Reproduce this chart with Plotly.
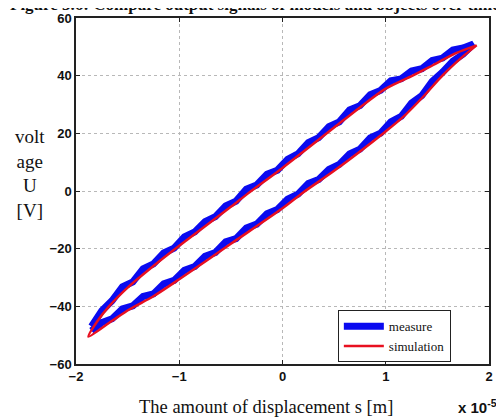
import plotly.graph_objects as go

# Displacement in units of 1e-5 m
meas_x = [-1.85, -1.75, -1.65, -1.55, -1.45, -1.35, -1.25, -1.15, -1.05, -0.95,
          -0.85, -0.75, -0.65, -0.55, -0.45, -0.35, -0.25, -0.15, -0.05, 0.05,
          0.15, 0.25, 0.35, 0.45, 0.55, 0.65, 0.75, 0.85, 0.95, 1.05,
          1.15, 1.25, 1.35, 1.45, 1.55, 1.65, 1.75, 1.85]
meas_lower = [-48.5, -45.6, -44.3, -40.9, -39.8, -36.6, -35.7, -32.2, -31.0, -27.5,
              -26.2, -22.6, -21.3, -17.6, -16.5, -12.8, -11.5, -7.9, -6.4, -2.8,
              -1.1, 2.6, 4.0, 7.5, 9.2, 12.9, 14.5, 18.4, 20.1, 24.0,
              25.9, 30.5, 33.1, 38.0, 41.2, 45.0, 47.5, 50.8]
meas_upper = [-47.0, -41.5, -38.0, -33.2, -31.5, -27.0, -25.3, -21.5, -19.8, -15.9,
              -14.2, -10.6, -8.9, -5.2, -3.5, 0.6, 2.1, 5.8, 7.2, 11.0,
              12.9, 16.8, 18.5, 22.3, 24.0, 28.1, 29.6, 33.4, 34.9, 38.2,
              38.9, 41.6, 42.4, 45.3, 46.1, 48.9, 49.6, 51.0]

sim_lower_x = [-1.88, -1.65, -1.48, -1.25, -1.0, -0.5, 0.0, 0.2, 0.5, 0.99,
               1.166, 1.36, 1.553, 1.746, 1.88]
sim_lower_y = [-50.5, -45.0, -41.0, -36.5, -30.6, -18.3, -6.0, -0.5, 7.0, 20.4,
               25.6, 32.6, 40.2, 46.6, 50.5]
sim_upper_x = [-1.88, -1.8, -1.68, -1.5, -1.25, -1.0, -0.5, -0.34, 0.0, 0.5,
               0.75, 1.0, 1.26, 1.46, 1.68, 1.88]
sim_upper_y = [-50.5, -45.5, -40.0, -33.5, -26.0, -19.0, -5.5, -1.0, 8.0, 22.0,
               29.0, 35.5, 40.0, 43.7, 47.8, 50.5]

x_ticks = [-2, -1, 0, 1, 2]
y_ticks = [-60, -40, -20, 0, 20, 40, 60]

# closed loops: lower branch left->right, upper branch right->left
mx = meas_x + meas_x[::-1]
my = meas_lower + meas_upper[::-1]
sx = sim_lower_x + sim_upper_x[::-1]
sy = sim_lower_y + sim_upper_y[::-1]

fig = go.Figure()
fig.add_trace(go.Scatter(x=mx, y=my, mode="lines", name="measure",
                         line=dict(color="#0a0af0", width=7)))
fig.add_trace(go.Scatter(x=sx, y=sy, mode="lines", name="simulation",
                         line=dict(color="#e81020", width=2.5, shape="spline", smoothing=0.8)))

axis_common = dict(
    showline=True, linecolor="#222", linewidth=1.5, mirror="ticks",
    ticks="inside", ticklen=4, tickcolor="#222",
    showgrid=True, gridcolor="#b8b8b8", griddash="dot", gridwidth=1,
    zeroline=False, automargin=False,
    tickfont=dict(family="Liberation Sans", size=13, color="#111", weight="bold"),
)
fig.update_xaxes(range=[-2, 2], tickvals=x_ticks, **axis_common)
fig.update_yaxes(range=[-60, 60], tickvals=y_ticks, **axis_common)

fig.update_layout(
    width=496, height=411,
    margin=dict(l=68, r=15, t=10, b=55),
    paper_bgcolor="white", plot_bgcolor="white",
    showlegend=True,
    legend=dict(x=0.634, y=0.005, xanchor="left", yanchor="bottom",
                bordercolor="#222", borderwidth=1, bgcolor="white",
                font=dict(family="Liberation Serif", size=13, color="#111"),
                tracegroupgap=0, itemwidth=40),
    annotations=[
        dict(text="Figure 3.6: Compare output signals of models and objects over time",
             xref="paper", yref="paper", x=-0.165, y=1.038, xanchor="left", yanchor="middle",
             showarrow=False,
             font=dict(family="Liberation Serif", size=17, color="#111", weight="bold")),
        dict(text="volt<br>age<br>U<br>[V]", xref="paper", yref="paper",
             x=-0.112, y=0.55, xanchor="center", yanchor="middle", showarrow=False,
             font=dict(family="Liberation Serif", size=19, color="#111")),
        dict(text="The amount of displacement s [m]", xref="paper", yref="paper",
             x=0.46, y=-0.125, xanchor="center", yanchor="middle", showarrow=False,
             font=dict(family="Liberation Serif", size=18.5, color="#111")),
        dict(text="x 10<sup>-5</sup>", xref="paper", yref="paper",
             x=0.92, y=-0.122, xanchor="left", yanchor="middle", showarrow=False,
             font=dict(family="Liberation Sans", size=15, color="#111", weight="bold")),
    ],
)

fig.write_html("out.html")
